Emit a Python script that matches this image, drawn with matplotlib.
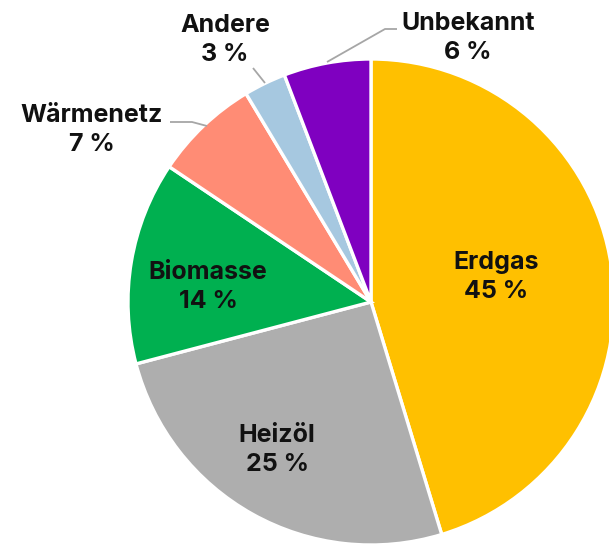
import matplotlib.pyplot as plt

labels = ["Erdgas", "Heizöl", "Biomasse", "Wärmenetz", "Andere", "Unbekannt"]
values = [45.3, 25.6, 13.5, 7.0, 2.8, 5.8]
shown_pct = [45, 25, 14, 7, 3, 6]
colors = ["#FFC000", "#AEAEAE", "#00B050", "#FF8C75", "#A6C8E0", "#7F00C0"]

W, H = 609, 545
cx, cy, R = 371, 302, 243


def px(x, y):
    # pixel position (from top-left) -> data coords, pie radius = 1
    return (x - cx) / R, (cy - y) / R


fig = plt.figure(figsize=(W / 100, H / 100), dpi=100)
ax = fig.add_axes([0, 0, 1, 1])
ax.pie(values, colors=colors, startangle=90, counterclock=False, radius=1,
       wedgeprops=dict(edgecolor="white", linewidth=2.4))
ax.set_aspect("equal")
ax.set_xlim(-cx / R, (W - cx) / R)
ax.set_ylim(-(H - cy) / R, cy / R)
ax.axis("off")

# label centre positions in pixels
label_pos = {
    "Erdgas": (496, 277),
    "Heizöl": (277, 450),
    "Biomasse": (208, 287),
    "Wärmenetz": (92, 130),
    "Andere": (225, 40),
    "Unbekannt": (468, 38),
}
for lab, pct in zip(labels, shown_pct):
    x, y = px(*label_pos[lab])
    ax.text(x, y, f"{lab}\n{pct} %", ha="center", va="center",
            fontsize=18, fontweight="bold", family="Inter",
            linespacing=1.32, color="#111111")

# leader lines
leaders = [
    [(170, 122), (192, 122), (207, 126)],
    [(253, 68), (265, 83)],
    [(327, 62), (385, 29), (397, 29)],
]
for pts in leaders:
    xs, ys = zip(*[px(*p) for p in pts])
    ax.plot(xs, ys, color="#A6A6A6", linewidth=1.3, solid_capstyle="butt")

fig.savefig("out.png", dpi=100)
